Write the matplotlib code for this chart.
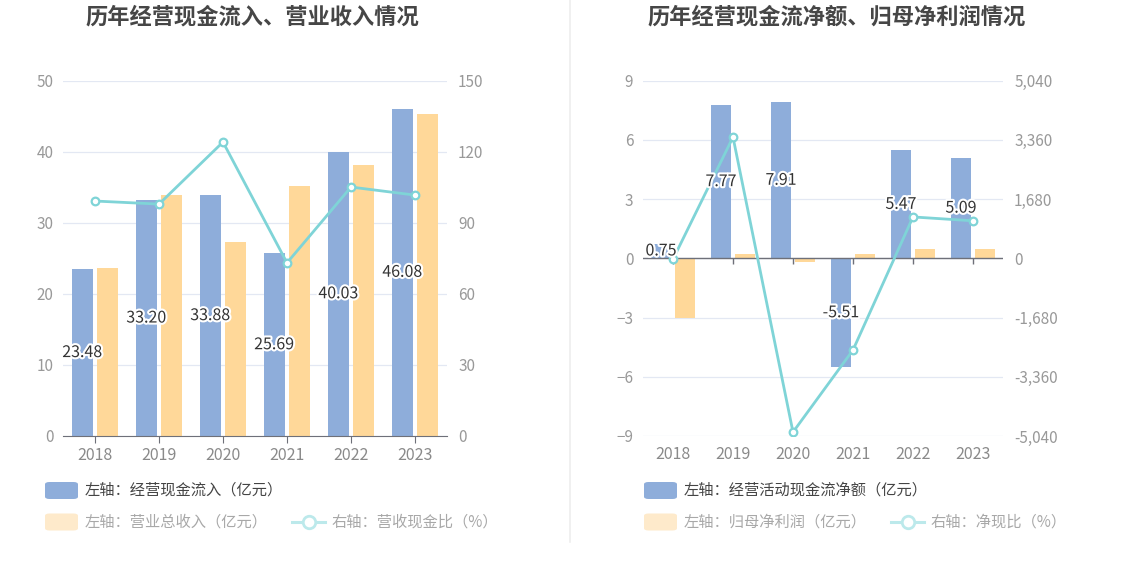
import matplotlib
matplotlib.use("Agg")
import matplotlib.pyplot as plt
from matplotlib.patches import FancyBboxPatch
from matplotlib.lines import Line2D
import matplotlib.patheffects as pe
from matplotlib.ticker import FuncFormatter

plt.rcParams['font.family'] = ['Noto Sans CJK SC', 'DejaVu Sans']

# ---------------- data ----------------
years = ['2018', '2019', '2020', '2021', '2022', '2023']

# left chart
cash_inflow = [23.48, 33.20, 33.88, 25.69, 40.03, 46.08]      # 经营现金流入 (亿元)
revenue = [23.68, 33.90, 27.30, 35.13, 38.09, 45.30]           # 营业总收入 (亿元)
cash_rev_ratio = [99.2, 97.9, 124.1, 73.1, 105.1, 101.7]       # 营收现金比 (%)
left_ticks = [0, 10, 20, 30, 40, 50]
left_rticks = [0, 30, 60, 90, 120, 150]

# right chart
net_cash = [0.75, 7.77, 7.91, -5.51, 5.47, 5.09]               # 经营活动现金流净额 (亿元)
net_profit = [-3.02, 0.24, -0.17, 0.21, 0.46, 0.47]            # 归母净利润 (亿元)
net_cash_ratio = [-25, 3440, -4930, -2600, 1175, 1065]         # 净现比 (%)
right_ticks = [-9, -6, -3, 0, 3, 6, 9]
right_rticks = [-5040, -3360, -1680, 0, 1680, 3360, 5040]

titles = ['历年经营现金流入、营业收入情况', '历年经营现金流净额、归母净利润情况']
legend_left = ['左轴：经营现金流入（亿元）', '左轴：营业总收入（亿元）', '右轴：营收现金比（%）']
legend_right = ['左轴：经营活动现金流净额（亿元）', '左轴：归母净利润（亿元）', '右轴：净现比（%）']

# ---------------- style ----------------
W, H = 1134, 582
BLUE = '#8eadda'
ORANGE = '#ffd899'
CYAN = '#7fd4d7'
GRID = '#e3e8f3'
AXIS = '#6e7079'
TICKC = '#999999'
XLC = '#8a8a8a'

fig = plt.figure(figsize=(W / 100, H / 100), dpi=100)


def fx(x):
    return x / W


def fy(y):
    return (H - y) / H


def make_axes(x0, x1, y0, y1):
    return fig.add_axes([fx(x0), fy(y1), fx(x1 - x0), (y1 - y0) / H])


def style_axes(ax, ax2):
    for a in (ax, ax2):
        for s in a.spines.values():
            s.set_visible(False)
    ax.grid(axis='y', color=GRID, linewidth=0.9)
    ax.set_axisbelow(True)
    ax.tick_params(axis='y', length=0, labelsize=11, labelcolor=TICKC, pad=7)
    ax2.tick_params(axis='y', length=0, labelsize=11, labelcolor=TICKC, pad=8)
    ax.set_xlim(-0.5, len(years) - 0.5)


x = list(range(len(years)))
off = 0.2
bw = 0.33
label_fx = [pe.withStroke(linewidth=3, foreground='white')]

# ---------------- left chart ----------------
axL = make_axes(63, 447, 80.7, 436)
axL2 = axL.twinx()
style_axes(axL, axL2)
axL.bar([i - off for i in x], cash_inflow, width=bw, color=BLUE, zorder=2)
axL.bar([i + off for i in x], revenue, width=bw, color=ORANGE, zorder=2)
axL.set_ylim(0, 50)
axL.set_yticks(left_ticks)
axL2.set_ylim(0, 150)
axL2.set_yticks(left_rticks)
axL2.plot(x, cash_rev_ratio, color=CYAN, linewidth=2, marker='o', markersize=5.5,
          markerfacecolor='white', markeredgecolor=CYAN, markeredgewidth=1.6, zorder=3)
axL.spines['bottom'].set_visible(True)
axL.spines['bottom'].set_color(AXIS)
axL.set_xticks(x)
axL.set_xticklabels(years)
axL.tick_params(axis='x', length=5, color=AXIS, labelsize=11.5, labelcolor=XLC, pad=3)
for i, v in enumerate(cash_inflow):
    axL2.text(i - off, v / 2, f'{v:.2f}', transform=axL.transData, ha='center', va='center',
              fontsize=11.5, color='#333333', path_effects=label_fx, zorder=5)

# ---------------- right chart ----------------
axR = make_axes(643, 1003, 80.7, 436)
axR2 = axR.twinx()
style_axes(axR, axR2)
axR.bar([i - off for i in x], net_cash, width=bw, color=BLUE, zorder=2)
axR.bar([i + off for i in x], net_profit, width=bw, color=ORANGE, zorder=2)
axR.set_ylim(-9, 9)
axR.set_yticks(right_ticks)
axR2.set_ylim(-5040, 5040)
axR2.set_yticks(right_rticks)
axR2.yaxis.set_major_formatter(FuncFormatter(lambda v, p: f'{int(v):,}'))
axR2.plot(x, net_cash_ratio, color=CYAN, linewidth=2, marker='o', markersize=5.5,
          markerfacecolor='white', markeredgecolor=CYAN, markeredgewidth=1.6, zorder=3)
axR.set_xticks(x)
axR.set_xticklabels(years)
axR.tick_params(axis='x', length=0, labelsize=11.5, labelcolor=XLC, pad=7)
# zero axis line with downward ticks at category centres
axR.axhline(0, color=AXIS, linewidth=1, zorder=2.5)
axR.plot(x, [0] * len(x), linestyle='none', marker=3, markersize=4,
         markeredgewidth=1, color=AXIS, zorder=2.5)
for i, v in enumerate(net_cash):
    axR2.text(i - off, v / 2, f'{v:.2f}', transform=axR.transData, ha='center', va='center',
              fontsize=11.5, color='#333333', path_effects=label_fx, zorder=5)

# ---------------- titles ----------------
fig.text(fx(252.5), fy(17), titles[0], ha='center', va='center', fontsize=16,
         fontweight='bold', color='#464646')
fig.text(fx(836.5), fy(17), titles[1], ha='center', va='center', fontsize=16,
         fontweight='bold', color='#464646')

# divider
fig.add_artist(Line2D([fx(570), fx(570)], [fy(0), fy(542)], color='#eeeeee', linewidth=1.2))


# ---------------- legends ----------------
def swatch(x0, yc, color):
    fig.add_artist(FancyBboxPatch((fx(x0), fy(yc + 8.5)), fx(33), 17 / H,
                                  boxstyle='round,pad=0,rounding_size=0.004',
                                  facecolor=color, edgecolor='none',
                                  transform=fig.transFigure))


def line_item(x0, yc, color):
    fig.add_artist(Line2D([fx(x0), fx(x0 + 33)], [fy(yc), fy(yc)], color=color, linewidth=2.2))
    fig.add_artist(Line2D([fx(x0 + 16.5)], [fy(yc)], marker='o', markersize=9,
                          markerfacecolor='white', markeredgecolor=color, markeredgewidth=2))


def legend(sw_x, txt_x, line_x, line_txt_x, labels):
    r1, r2 = 490.5, 522
    swatch(sw_x, r1, BLUE)
    fig.text(fx(txt_x), fy(r1), labels[0], ha='left', va='center', fontsize=11, color='#444444')
    swatch(sw_x, r2, '#feeacb')
    fig.text(fx(txt_x), fy(r2), labels[1], ha='left', va='center', fontsize=11, color='#a8a8a8')
    line_item(line_x, r2, '#bce9eb')
    fig.text(fx(line_txt_x), fy(r2), labels[2], ha='left', va='center', fontsize=11, color='#a8a8a8')


legend(45, 85, 292, 332, legend_left)
legend(644, 684, 891, 931, legend_right)

fig.savefig('out.png', dpi=100, facecolor='white')
